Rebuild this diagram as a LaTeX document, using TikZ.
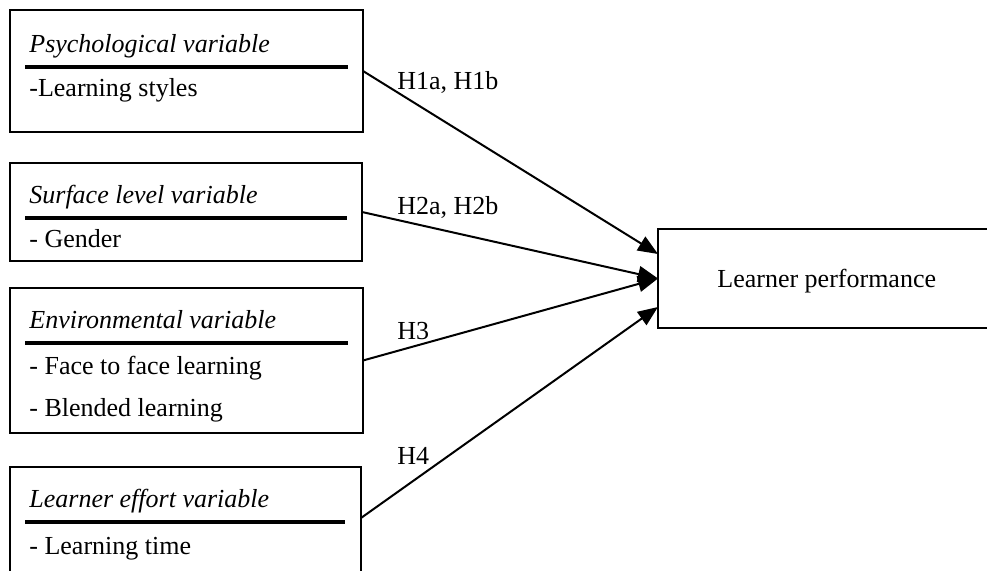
\documentclass[tikz,border=0pt]{standalone}
\usepackage{fontspec}
\setmainfont{Liberation Serif}
\usetikzlibrary{arrows.meta}
\def\boxfont{\fontsize{13}{15}\selectfont}
\tikzset{
  varbox/.style = {rectangle, draw, line width=1pt,
                   inner sep=0pt, outer sep=0pt},
  vtitle/.style = {anchor=base west, inner sep=0pt, font=\boxfont\itshape},
  vitem/.style  = {anchor=base west, inner sep=0pt, font=\boxfont},
  hyp/.style    = {anchor=base west, inner sep=0pt, font=\boxfont},
  rule/.style   = {line width=1.6pt},
  hyparrow/.style = {line width=1pt, -{Triangle[length=10pt, width=8pt]}}
}

\begin{document}
\begin{tikzpicture}[x=0.5pt, y=-0.5pt]
	\def \tx{29}  % text indent
	\def \ra{25}  % rule start
	\useasboundingbox (0,0) rectangle (987,571);
	\clip (0,0) rectangle (987,571);

	% Boxes
	\node[varbox, minimum width=176.5pt, minimum height=61pt]   (psy)  at (186.5,71)    {};
	\node[varbox, minimum width=176pt,   minimum height=49pt]   (surf) at (186,212)     {};
	\node[varbox, minimum width=176.5pt, minimum height=72.5pt] (env)  at (186.5,360.5) {};
	\node[varbox, minimum width=175.5pt, minimum height=54.5pt] (eff)  at (185.5,521.5) {};
	\node[varbox, minimum width=168.5pt, minimum height=49.5pt] (perf) at (826.5,278.5) {};
	\node[vitem] (perfT) at (717,288) {Learner performance};

	% Psychological
	\node[vtitle] (psyT) at (\tx,53) {Psychological variable};
	\draw[rule] (\ra,67) -- (348,67);
	\node[vitem] (psyA) at (\tx,97) {-Learning styles};

	% Surface level
	\node[vtitle] (surfT) at (\tx,204) {Surface level variable};
	\draw[rule] (\ra,218) -- (347,218);
	\node[vitem] (surfA) at (\tx,248) {- Gender};

	% Environmental
	\node[vtitle] (envT) at (\tx,329) {Environmental variable};
	\draw[rule] (\ra,343) -- (348,343);
	\node[vitem] (envA) at (\tx,375) {- Face to face learning};
	\node[vitem] (envB) at (\tx,417) {- Blended learning};

	% Learner effort
	\node[vtitle] (effT) at (\tx,508) {Learner effort variable};
	\draw[rule] (\ra,522) -- (345,522);
	\node[vitem] (effA) at (\tx,555) {- Learning time};

	% Hypotheses
	\draw[hyparrow] (psy.east) -- ([yshift=12.25pt]perf.west);
	\draw[hyparrow] (surf.east) -- (perf.west);
	\draw[hyparrow] (env.east) -- (perf.west);
	\draw[hyparrow] ([yshift=1.75pt]eff.east) -- ([yshift=-14.25pt]perf.west);

	\node[hyp] (h1) at (397,90)  {H1a, H1b};
	\node[hyp] (h2) at (397,215) {H2a, H2b};
	\node[hyp] (h3) at (397,340) {H3};
	\node[hyp] (h4) at (397,465) {H4};
\end{tikzpicture}
\end{document}
